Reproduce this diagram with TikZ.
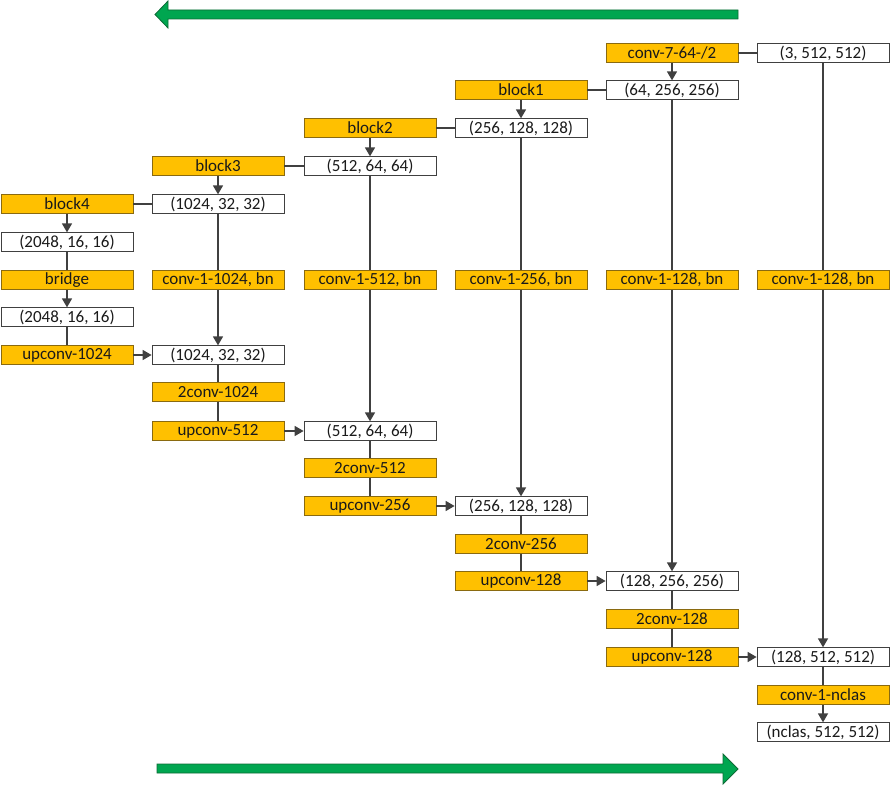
\documentclass[tikz,border=0pt]{standalone}
\usepackage{fontspec}
\setmainfont{Carlito}
\usetikzlibrary{arrows.meta}
\definecolor{orng}{HTML}{FFC000}
\definecolor{orngb}{HTML}{8A6A10}
\definecolor{lnc}{HTML}{404040}
\definecolor{txtc}{HTML}{1A1A1A}
\definecolor{grn}{HTML}{00A650}
\definecolor{grnb}{HTML}{0E6B36}
\tikzset{
  basebox/.style={minimum width=132pt, minimum height=18.5pt, inner sep=0pt, anchor=center,
    font=\fontsize{17}{18}\selectfont, text=txtc, line width=0.8pt},
  obox/.style={basebox, fill=orng, draw=orngb},
  wbox/.style={basebox, fill=white, draw=lnc},
  conn/.style={draw=lnc, line width=1.6pt},
  arr/.style={conn, -{Triangle[length=9pt,width=10pt]}},
  bigarrow/.style={fill=grn, draw=grnb, line width=0.8pt}
}
\begin{document}
\begin{tikzpicture}[x=1pt,y=-1pt]
\useasboundingbox (0,0) rectangle (890,786);
% green arrows
\fill[bigarrow] (738,10) -- (168,10) -- (168,1) -- (155,14.5) -- (168,28) -- (168,19) -- (738,19) -- cycle;
\fill[bigarrow] (157,764) -- (723,764) -- (723,754) -- (738,769) -- (723,784) -- (723,773) -- (157,773) -- cycle;
% column x: 67 218 370 521 672 823
% rows
\node[obox] (c7) at (672,53) {conv-7-64-/2};
\node[wbox] (i0) at (823,53) {(3, 512, 512)};
\node[obox] (b1) at (521,90) {block1};
\node[wbox] (e1) at (672,90) {(64, 256, 256)};
\node[obox] (b2) at (370,128) {block2};
\node[wbox] (e2) at (521,128) {(256, 128, 128)};
\node[obox] (b3) at (218,166) {block3};
\node[wbox] (e3) at (370,166) {(512, 64, 64)};
\node[obox] (b4) at (67,204) {block4};
\node[wbox] (e4) at (218,204) {(1024, 32, 32)};
\node[wbox] (e5) at (67,242) {(2048, 16, 16)};
\node[obox] (br) at (67,280) {bridge};
\node[obox] (s1) at (218,280) {conv-1-1024, bn};
\node[obox] (s2) at (370,280) {conv-1-512, bn};
\node[obox] (s3) at (521,280) {conv-1-256, bn};
\node[obox] (s4) at (672,280) {conv-1-128, bn};
\node[obox] (s5) at (823,280) {conv-1-128, bn};
\node[wbox] (m0) at (67,317) {(2048, 16, 16)};
\node[obox] (u1) at (67,355) {upconv-1024};
\node[wbox] (d1) at (218,355) {(1024, 32, 32)};
\node[obox] (c1) at (218,392) {2conv-1024};
\node[obox] (u2) at (218,431) {upconv-512};
\node[wbox] (d2) at (370,431) {(512, 64, 64)};
\node[obox] (c2) at (370,468) {2conv-512};
\node[obox] (u3) at (370,506) {upconv-256};
\node[wbox] (d3) at (521,506) {(256, 128, 128)};
\node[obox] (c3) at (521,544) {2conv-256};
\node[obox] (u4) at (521,581) {upconv-128};
\node[wbox] (d4) at (672,581) {(128, 256, 256)};
\node[obox] (c4) at (672,619) {2conv-128};
\node[obox] (u5) at (672,657) {upconv-128};
\node[wbox] (d5) at (823,657) {(128, 512, 512)};
\node[obox] (cn) at (823,695) {conv-1-nclas};
\node[wbox] (out) at (823,732) {(nclas, 512, 512)};
% encoder connectors
\draw[conn] (c7) -- (i0);
\draw[arr] (c7) -- (e1);
\draw[conn] (b1) -- (e1);
\draw[arr] (b1) -- (e2);
\draw[conn] (b2) -- (e2);
\draw[arr] (b2) -- (e3);
\draw[conn] (b3) -- (e3);
\draw[arr] (b3) -- (e4);
\draw[conn] (b4) -- (e4);
\draw[arr] (b4) -- (e5);
\draw[conn] (e5) -- (br);
\draw[arr] (br) -- (m0);
\draw[conn] (m0) -- (u1);
\draw[arr] (u1) -- (d1);
% skips
\draw[conn] (e4) -- (s1);
\draw[arr] (s1) -- (d1);
\draw[conn] (e3) -- (s2);
\draw[arr] (s2) -- (d2);
\draw[conn] (e2) -- (s3);
\draw[arr] (s3) -- (d3);
\draw[conn] (e1) -- (s4);
\draw[arr] (s4) -- (d4);
\draw[conn] (i0) -- (s5);
\draw[arr] (s5) -- (d5);
% decoder
\draw[conn] (d1) -- (c1);
\draw[conn] (c1) -- (u2);
\draw[arr] (u2) -- (d2);
\draw[conn] (d2) -- (c2);
\draw[conn] (c2) -- (u3);
\draw[arr] (u3) -- (d3);
\draw[conn] (d3) -- (c3);
\draw[conn] (c3) -- (u4);
\draw[arr] (u4) -- (d4);
\draw[conn] (d4) -- (c4);
\draw[conn] (c4) -- (u5);
\draw[arr] (u5) -- (d5);
\draw[conn] (d5) -- (cn);
\draw[arr] (cn) -- (out);
\end{tikzpicture}
\end{document}
